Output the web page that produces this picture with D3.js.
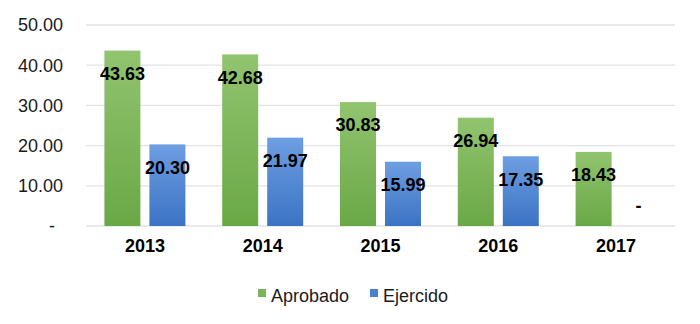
<!DOCTYPE html>
<html><head><meta charset="utf-8">
<script src="https://cdn.jsdelivr.net/npm/d3@7"></script>
<style>body{margin:0;background:#fff}svg{display:block;font-family:"Liberation Sans",Arial,sans-serif}</style>
</head><body>
<svg id="c" width="700" height="324"></svg>
<script>
const years = ["2013","2014","2015","2016","2017"];
const aprobado = [43.63, 42.68, 30.83, 26.94, 18.43];
const ejercido = [20.30, 21.97, 15.99, 17.35, 0];
const seriesNames = ["Aprobado","Ejercido"];
const yTicks = [0,10,20,30,40,50];

const svg = d3.select("#c");
const defs = svg.append("defs");
function grad(id, c1, c2){
  const g = defs.append("linearGradient").attr("id",id).attr("x1",0).attr("y1",0).attr("x2",0).attr("y2",1);
  g.append("stop").attr("offset","0%").attr("stop-color",c1);
  g.append("stop").attr("offset","100%").attr("stop-color",c2);
}
grad("gG","#91c46f","#6aa846");
grad("gB","#6e9ee2","#3b73c4");

const x = d3.scaleBand().domain(years).range([86,675]);
const y = d3.scaleLinear().domain([0,50]).range([226,25]);

// grid
svg.append("g").selectAll("line").data(yTicks).join("line")
  .attr("x1",86).attr("x2",675).attr("y1",d=>y(d)).attr("y2",d=>y(d))
  .attr("stroke","#e3e3e3").attr("stroke-width",1.3);

// y labels
svg.append("g").selectAll("text").data(yTicks).join("text")
  .attr("x",d=>d===0?52:63).attr("y",d=>y(d)).attr("dy","0.35em")
  .attr("text-anchor",d=>d===0?"middle":"end")
  .attr("font-size",18).attr("fill","#1a1a1a")
  .text(d=>d===0?"-":d3.format(".2f")(d));

const bw = 36, gap = 9;
const series = [aprobado, ejercido];
const fills = ["url(#gG)","url(#gB)"];
series.forEach((vals,si)=>{
  const off = si===0 ? -gap/2-bw : gap/2;
  const g = svg.append("g");
  g.selectAll("rect").data(vals).join("rect")
    .attr("x",(d,i)=>x(years[i])+x.bandwidth()/2+off)
    .attr("y",d=>y(d)).attr("width",bw).attr("height",d=>y(0)-y(d))
    .attr("fill",fills[si]);
  g.selectAll("text").data(vals).join("text")
    .attr("x",(d,i)=>x(years[i])+x.bandwidth()/2+off+bw/2)
    .attr("y",d=>d===0?y(0)-20:y(d)+23).attr("dy","0.35em")
    .attr("text-anchor","middle").attr("font-size",18).attr("font-weight","bold").attr("fill","#000")
    .text(d=>d===0?"-":d3.format(".2f")(d));
});

// x labels
svg.append("g").selectAll("text").data(years).join("text")
  .attr("x",d=>x(d)+x.bandwidth()/2).attr("y",246).attr("dy","0.35em")
  .attr("text-anchor","middle").attr("font-size",18).attr("font-weight","bold").attr("fill","#000")
  .text(d=>d);

// legend
const leg = [{n:seriesNames[0],c:"#7ab55c",x:258},{n:seriesNames[1],c:"#4a80d0",x:370}];
const lg = svg.append("g");
leg.forEach(l=>{
  lg.append("rect").attr("x",l.x).attr("y",289).attr("width",8).attr("height",8).attr("fill",l.c);
  lg.append("text").attr("x",l.x+13).attr("y",296).attr("dy","0.35em").attr("font-size",18).attr("fill","#1a1a1a").text(l.n);
});
</script>
</body></html>
